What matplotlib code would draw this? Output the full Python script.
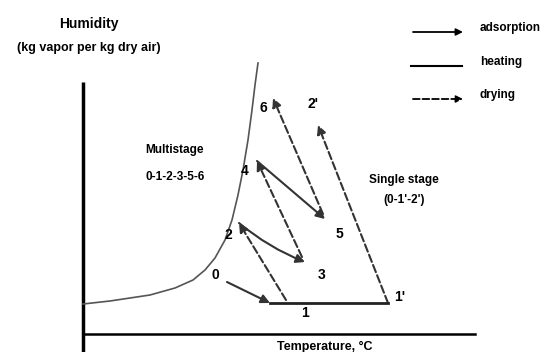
import matplotlib
matplotlib.use('Agg')
import matplotlib.pyplot as plt
from matplotlib.patches import FancyArrowPatch

plt.rcParams['font.family'] = ['Liberation Sans', 'DejaVu Sans']
plt.rcParams['font.weight'] = 'bold'

# saturation curve (pixel coords of the original sketch)
sat_x = [83, 110, 150, 175, 193, 205, 215, 225, 232, 238, 243, 248, 252, 255, 258]
sat_y = [304, 301, 295, 288, 280, 270, 258, 240, 220, 195, 170, 140, 110, 85, 63]

# state points
pts = {
    '0': (227, 282), '1': (270, 303), "1'": (388, 303),
    '2': (239, 223), '3': (305, 262), '4': (257, 161),
    '5': (325, 219), '6': (273, 98), "2'": (318, 125),
}
# path segments: start, end, kind
segs = [
    ('0', '1', 'ads'),
    ('1', "1'", 'heat'),
    ((286, 300), '2', 'dry'),
    ('2', '3', 'ads'),
    ((302, 257), '4', 'dry'),
    ('4', '5', 'ads'),
    ((323, 214), '6', 'dry'),
    ("1'", "2'", 'dry'),
]
lbl_names = ['0', '1', "1'", '2', '3', '4', '5', '6', "2'"]
lbl_x = [215, 305, 400, 228, 322, 245, 339, 263, 313]
lbl_y = [275, 313, 297, 235, 275, 171, 234, 108, 104]

fig = plt.figure(figsize=(5.44, 3.52), dpi=100)
ax = fig.add_axes([0, 0, 1, 1])
ax.set_xlim(0, 544)
ax.set_ylim(352, 0)
ax.axis('off')

# axes lines
ax.plot([83, 83], [82, 352], color='black', lw=2.5, solid_capstyle='butt')
ax.plot([83, 475], [334, 334], color='black', lw=1.8)

ax.plot(sat_x, sat_y, color='#555555', lw=1.2)

def pos(p):
    return pts[p] if isinstance(p, str) else p

for a, b, kind in segs:
    p0, p1 = pos(a), pos(b)
    if kind == 'heat':
        ax.plot([p0[0], p1[0]], [p0[1], p1[1]], color='#222222', lw=2)
        continue
    ls = '--' if kind == 'dry' else '-'
    rad = 0.08 if (a, b) == ('2', '3') else 0.0
    arr = FancyArrowPatch(p0, p1, arrowstyle='-|>', mutation_scale=13,
                          color='#333333', lw=1.5, linestyle=ls,
                          connectionstyle=f'arc3,rad={rad}', shrinkA=0, shrinkB=0)
    ax.add_patch(arr)

for n, x, y in zip(lbl_names, lbl_x, lbl_y):
    ax.text(x, y, n, fontsize=10, ha='center', va='center')

ax.text(89, 24, 'Humidity', fontsize=10, ha='center', va='center')
ax.text(89, 48, '(kg vapor per kg dry air)', fontsize=9, ha='center', va='center')
ax.text(174, 150, 'Multistage', fontsize=8.5, ha='center', va='center')
ax.text(175, 177, '0-1-2-3-5-6', fontsize=8.5, ha='center', va='center')
ax.text(404, 180, 'Single stage', fontsize=8.5, ha='center', va='center')
ax.text(404, 200, "(0-1'-2')", fontsize=8.5, ha='center', va='center')
ax.text(325, 347, 'Temperature, \u00b0C', fontsize=9, ha='center', va='center')

# legend
leg_names = ['adsorption', 'heating', 'drying']
leg_y = [32, 66, 99]
for n, y in zip(leg_names, leg_y):
    if n == 'heating':
        ax.plot([411, 462], [y, y], color='black', lw=1.5)
    else:
        ls = '--' if n == 'drying' else '-'
        ax.add_patch(FancyArrowPatch((413, y), (463, y), arrowstyle='-|>',
                                     mutation_scale=10, color='black', lw=1.3,
                                     linestyle=ls, shrinkA=0, shrinkB=0))
    ax.text(480, y - 4, n, fontsize=8.5, ha='left', va='center')

fig.savefig('out.png', dpi=100)
